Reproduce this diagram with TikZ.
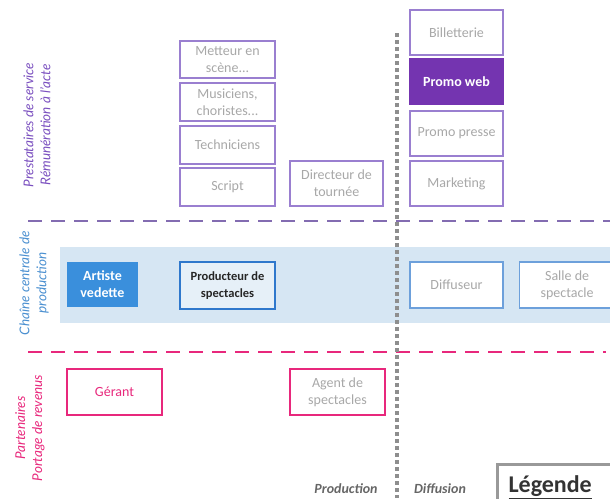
\documentclass[tikz,border=0pt]{standalone}
\usepackage{fontspec}
\setmainfont{Carlito}
\newfontfamily\lblfont{Lato}
\definecolor{pborder}{HTML}{9A7FD0}
\definecolor{pfill}{HTML}{7434B0}
\definecolor{ptext}{HTML}{7A4FBF}
\definecolor{gtext}{HTML}{A8A8A8}
\definecolor{band}{HTML}{D6E6F3}
\definecolor{bfill}{HTML}{3A8FDC}
\definecolor{bborder}{HTML}{2F78CC}
\definecolor{bltext}{HTML}{4A8FD0}
\definecolor{pink}{HTML}{E8287C}
\definecolor{dotgray}{HTML}{8E8E8E}
\begin{document}
\begin{tikzpicture}[x=1pt,y=-1pt,
  box/.style={rectangle, inner sep=1pt, align=center, font=\fontsize{14}{17}\selectfont, text=gtext},
  pbox/.style={box, draw=pborder, line width=1.2pt, fill=white},
  bbox/.style={box, draw=bborder!70, line width=1.2pt, fill=white},
  kbox/.style={box, draw=pink, line width=1.2pt, fill=white},
  sidelbl/.style={rotate=90, align=center, font=\lblfont\itshape\fontsize{13.5}{17}\selectfont}
]
\useasboundingbox (0,0) rectangle (610,498);
% band
\fill[band] (60,247) rectangle (610,323);
% boxes column 1
\node[pbox, minimum width=95, minimum height=37] (met) at (227.5,59.5) {Metteur en\\scène...};
\node[pbox, minimum width=95, minimum height=38] (mus) at (227.5,102) {Musiciens,\\choristes...};
\node[pbox, minimum width=95, minimum height=38] (tec) at (227.5,145) {Techniciens};
\node[pbox, minimum width=95, minimum height=38] (scr) at (227.5,187) {Script};
\node[pbox, minimum width=93, minimum height=45] (dir) at (336.5,183.5) {Directeur de\\tournée};
% right column
\node[pbox, minimum width=93, minimum height=45] (bil) at (456.5,32.5) {Billetterie};
\node[box, fill=pfill, draw=pfill, line width=1.2pt, minimum width=93, minimum height=45, text=white, font=\bfseries\fontsize{14}{17}\selectfont] (web) at (456.5,81.5) {Promo web};
\node[pbox, minimum width=93, minimum height=45] (pre) at (456.5,133.5) {Promo presse};
\node[pbox, minimum width=93, minimum height=45] (mkt) at (456.5,183.5) {Marketing};
% central chain
\node[box, fill=bfill, minimum width=71, minimum height=45, text=white, font=\bfseries\fontsize{14}{17}\selectfont] (art) at (102.5,284.5) {Artiste\\vedette};
\node[box, fill=band!60, draw=bborder, line width=1.4pt, minimum width=95, minimum height=47, text=black!85, font=\bfseries\fontsize{12.5}{17}\selectfont] (pro) at (227.5,285.5) {Producteur de\\spectacles};
\node[bbox, minimum width=93, minimum height=46] (dif) at (456.5,285) {Diffuseur};
\node[bbox, minimum width=95, minimum height=46, anchor=west] (sal) at (519,285) {Salle de\\spectacle};
% partners
\node[kbox, minimum width=95, minimum height=46, text=pink] (ger) at (114.5,392) {Gérant};
\node[kbox, minimum width=95, minimum height=46] (age) at (337.5,392) {Agent de\\spectacles};
% dashed lines
\coordinate (pl1) at (28,221);
\coordinate (pl2) at (610,221);
\draw[pborder!85!black, line width=2.6pt, dash pattern=on 14pt off 9pt] (pl1) -- (pl2);
\coordinate (kl1) at (28,352);
\coordinate (kl2) at (606,352);
\draw[pink, line width=2.6pt, dash pattern=on 14pt off 9pt] (kl1) -- (kl2);
% vertical dotted
\coordinate (v1) at (397,33);
\coordinate (v2) at (397,498);
\draw[dotgray, line width=4pt, dash pattern=on 4pt off 3pt] (v1) -- (v2);
% side labels
\node[sidelbl, text=ptext] (lp) at (37,125) {Prestataires de service\\Rémunération à l’acte};
\node[sidelbl, text=bltext] (lc) at (34,283) {Chaîne centrale de\\production};
\node[sidelbl, text=pink] (lk) at (30,428) {Partenaires\\Portage de revenus};
% bottom labels
\node[font=\bfseries\itshape\fontsize{14}{17}\selectfont, text=black!60] (prod) at (346,489) {Production};
\node[font=\bfseries\itshape\fontsize{14}{17}\selectfont, text=black!60] (diff) at (440,489) {Diffusion};
% legend
\draw[black!40, line width=3pt, fill=white] (497,500) -- (497,464) -- (612,464);
\node[anchor=west, font=\bfseries\fontsize{24}{28}\selectfont, text=black!80] (leg) at (505,487) {\underline{Légende}};
\end{tikzpicture}
\end{document}
